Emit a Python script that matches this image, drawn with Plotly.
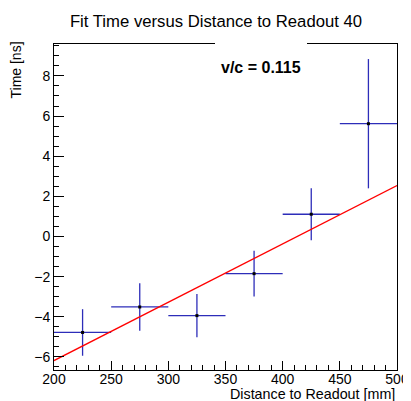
import plotly.graph_objects as go

# Data
distance = [225, 275, 325, 375, 425, 475]
distance_err = [25, 25, 25, 25, 25, 25]
fit_time = [-4.78, -3.51, -3.94, -1.85, 1.11, 5.62]
fit_time_err = [1.16, 1.18, 1.08, 1.14, 1.30, 3.22]
fit_line_x = [200, 500]
fit_line_y = [-6.18, 2.54]
x_ticks = [200, 250, 300, 350, 400, 450, 500]
y_ticks = [-6, -4, -2, 0, 2, 4, 6, 8]

FONT = "Liberation Sans, Arial, Helvetica, sans-serif"
ERR_COLOR = "rgb(45,45,185)"

# page body has an 8px margin; compensate so the frame lands at (54,44)-(397,370)
OFF = 8
W, H = 411 - OFF, 401 - OFF
L, T = 54 - OFF, 44 - OFF
R, B = 14, 31
PW, PH = W - L - R, H - T - B

fig = go.Figure()
fig.add_trace(go.Scatter(
    x=distance, y=fit_time, mode="markers",
    marker=dict(symbol="square", size=3, color="black"),
    error_x=dict(type="data", array=distance_err, color=ERR_COLOR, thickness=1.3, width=0),
    error_y=dict(type="data", array=fit_time_err, color=ERR_COLOR, thickness=1.3, width=0),
    showlegend=False, hoverinfo="skip",
))
fig.add_trace(go.Scatter(
    x=fit_line_x, y=fit_line_y, mode="lines",
    line=dict(color="red", width=1.3),
    showlegend=False, hoverinfo="skip",
))

fig.update_layout(
    width=W, height=H,
    margin=dict(l=L, r=R, t=T, b=B, autoexpand=False),
    paper_bgcolor="white", plot_bgcolor="white",
    font=dict(family=FONT, color="black", size=14),
    title=dict(text="Fit Time versus Distance to Readout 40", x=(216 - OFF) / W, xanchor="center",
               y=1 - (21 - OFF) / H, yanchor="middle", font=dict(size=16.7, family=FONT)),
)
fig.update_xaxes(
    range=[200, 500], tickvals=x_ticks, ticks="inside", ticklen=9, tickwidth=1,
    tickcolor="black", showline=True, linecolor="black", linewidth=1, mirror=True,
    showgrid=False, zeroline=False, tickfont=dict(size=14), automargin=False,
    ticklabelstandoff=-4,
    minor=dict(ticks="inside", ticklen=5, dtick=10, tickcolor="black", showgrid=False),
)
fig.update_yaxes(
    range=[-6.65, 9.59], tickvals=y_ticks, ticks="inside", ticklen=10, tickwidth=1,
    tickcolor="black", showline=True, linecolor="black", linewidth=1, mirror=True,
    showgrid=False, zeroline=False, tickfont=dict(size=14), automargin=False,
    minor=dict(ticks="inside", ticklen=5, dtick=0.5, tickcolor="black", showgrid=False),
)

# white box covering part of the top frame (title pave)
fig.add_shape(type="rect", xref="paper", yref="paper",
              x0=(215 - 54) / PW, x1=(307 - 54) / PW, y0=0.995, y1=1.02,
              fillcolor="white", line=dict(width=0), layer="above")

fig.add_annotation(text="Distance to Readout [mm]", xref="paper", yref="paper",
                   x=1, y=0, xanchor="right", yanchor="middle", yshift=-(394 - 370),
                   showarrow=False, font=dict(size=14.3, family=FONT))
fig.add_annotation(text="Time [ns]", xref="paper", yref="paper",
                   x=0, y=1, xanchor="center", yanchor="top", xshift=-(54 - 15), yshift=4,
                   textangle=-90, showarrow=False, font=dict(size=14, family=FONT))
fig.add_annotation(text="<b>v/c = 0.115</b>", xref="paper", yref="paper",
                   x=(261 - 54) / PW, y=1 - (67 - 44) / PH, xanchor="center", yanchor="middle",
                   showarrow=False, font=dict(size=16, family=FONT))

fig.write_html("out.html")
